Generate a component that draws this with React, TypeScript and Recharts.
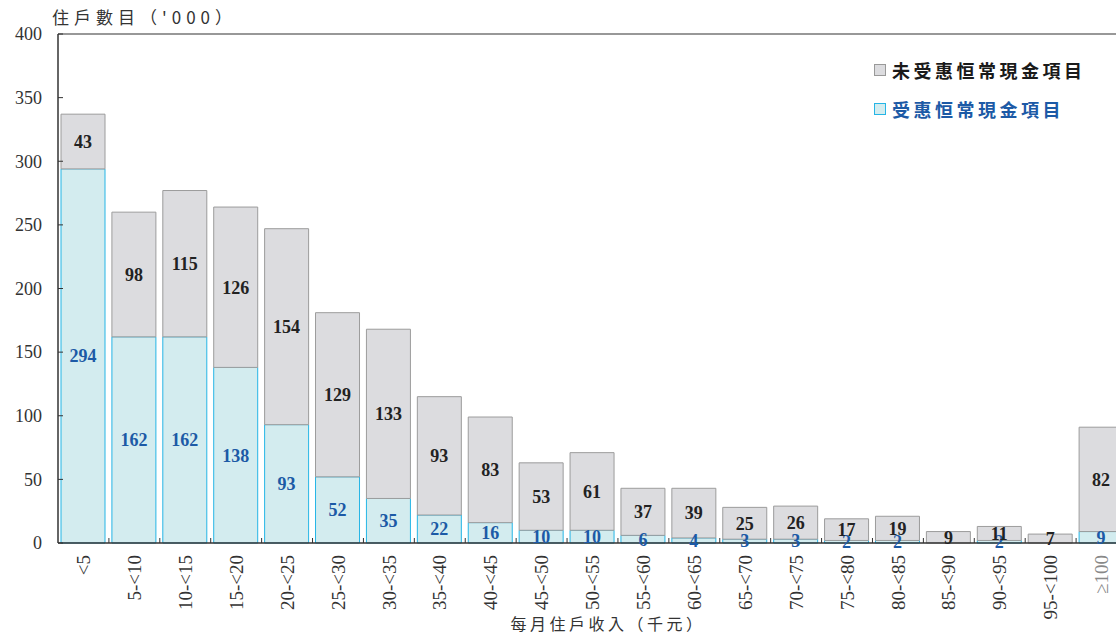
import { BarChart, Bar, XAxis, YAxis, LabelList, Legend, ReferenceLine } from 'recharts';

const categories = [
  '<5', '5-<10', '10-<15', '15-<20', '20-<25', '25-<30', '30-<35', '35-<40', '40-<45', '45-<50',
  '50-<55', '55-<60', '60-<65', '65-<70', '70-<75', '75-<80', '80-<85', '85-<90', '90-<95', '95-<100', '≥100',
];
// households receiving recurrent cash benefits ('000)
const received = [294, 162, 162, 138, 93, 52, 35, 22, 16, 10, 10, 6, 4, 3, 3, 2, 2, 0, 2, 0, 9];
// households not receiving recurrent cash benefits ('000)
const notReceived = [43, 98, 115, 126, 154, 129, 133, 93, 83, 53, 61, 37, 39, 25, 26, 17, 19, 9, 11, 7, 82];
const yTicks = [0, 50, 100, 150, 200, 250, 300, 350, 400];

const seriesNames = { received: '受惠恒常現金項目', notReceived: '未受惠恒常現金項目' };

const data = categories.map((c, i) => ({ band: c, received: received[i], notReceived: notReceived[i] }));

const SERIF = '"Liberation Serif", "DejaVu Serif", serif';
const CJK = '"Noto Sans CJK TC", "Noto Sans CJK SC", sans-serif';

const YTick = ({ x, y, payload }: any) => (
  <g>
    <line x1={x} x2={x + 5} y1={y} y2={y} stroke="#333" strokeWidth={1} />
    <text x={x - 16} y={y} dy="0.35em" textAnchor="end" fontFamily={SERIF} fontSize={18} fill="#333">
      {payload.value}
    </text>
  </g>
);

const XTick = ({ x, y, payload }: any) => {
  const half = payload.offset || 25.45;
  return (
    <g>
      <line x1={x + half} x2={x + half} y1={y} y2={y - 5} stroke="#333" strokeWidth={1} />
      <text
        x={x}
        y={y + 12}
        dy="0.35em"
        textAnchor="end"
        transform={`rotate(-90, ${x}, ${y + 12})`}
        fontFamily={SERIF}
        fontSize={19}
        fill={payload.value === '≥100' ? '#888' : '#333'}
      >
        {payload.value}
      </text>
    </g>
  );
};

const hideZero = (v: any) => (v ? v : '');

const renderLegend = () => (
  <div style={{ fontFamily: CJK, fontWeight: 700, fontSize: 18, letterSpacing: 3.5 }}>
    <div style={{ display: 'flex', alignItems: 'center', height: 24, color: '#1a1a1a' }}>
      <span style={{ width: 10, height: 10, background: '#dcdcdf', border: '1px solid #999', marginRight: 6 }} />
      {seriesNames.notReceived}
    </div>
    <div style={{ display: 'flex', alignItems: 'center', height: 24, marginTop: 15, color: '#1c5aa6' }}>
      <span style={{ width: 10, height: 10, background: '#d3ecef', border: '1px solid #25b5e6', marginRight: 6 }} />
      {seriesNames.received}
    </div>
  </div>
);

export default function App() {
  return (
    <div style={{ position: 'fixed', left: 0, top: 0, width: 1116, height: 635, overflow: 'hidden', background: '#fff' }}>
      <BarChart width={1140} height={635} data={data} margin={{ top: 34, right: 13, bottom: 0, left: 0 }} barSize={44}>
        <XAxis
          dataKey="band"
          height={92}
          interval={0}
          tickSize={0}
          tickMargin={0}
          tick={<XTick />}
          axisLine={{ stroke: '#333', strokeWidth: 1.5 }}
          label={{
            content: ({ viewBox }: any) => (
              <text
                x={viewBox.x + 550}
                y={viewBox.y + viewBox.height - 5}
                textAnchor="middle"
                fontFamily={CJK}
                fontSize={16}
                letterSpacing={3.5}
                fill="#333"
              >
                每月住戶收入（千元）
              </text>
            ),
          }}
        />
        <YAxis
          width={58}
          domain={[0, 400]}
          ticks={yTicks}
          interval={0}
          tickSize={0}
          tickMargin={0}
          tick={<YTick />}
          axisLine={{ stroke: '#333', strokeWidth: 1.5 }}
          label={{
            content: ({ viewBox }: any) => (
              <text
                x={viewBox.x + 52}
                y={viewBox.y - 10}
                textAnchor="start"
                fontFamily={CJK}
                fontSize={17}
                letterSpacing={5}
                fill="#333"
              >
                住戶數目（'000）
              </text>
            ),
          }}
        />
        <ReferenceLine y={400} stroke="#333" strokeWidth={1.2} />
        <Legend
          layout="vertical"
          align="center"
          verticalAlign="middle"
          content={renderLegend}
          wrapperStyle={{ top: 58, left: 874, width: 242 }}
        />
        <Bar dataKey="received" name={seriesNames.received} stackId="a" fill="#d3ecef" stroke="#25b5e6" strokeWidth={1} isAnimationActive={false}>
          <LabelList
            dataKey="received"
            position="center"
            formatter={hideZero}
            fill="#1c5aa6"
            fontFamily={SERIF}
            fontWeight={700}
            fontSize={18}
          />
        </Bar>
        <Bar dataKey="notReceived" name={seriesNames.notReceived} stackId="a" fill="#dcdcdf" stroke="#9c9c9c" strokeWidth={1} isAnimationActive={false}>
          <LabelList
            dataKey="notReceived"
            position="center"
            formatter={hideZero}
            fill="#222"
            fontFamily={SERIF}
            fontWeight={700}
            fontSize={18}
          />
        </Bar>
      </BarChart>
    </div>
  );
}
